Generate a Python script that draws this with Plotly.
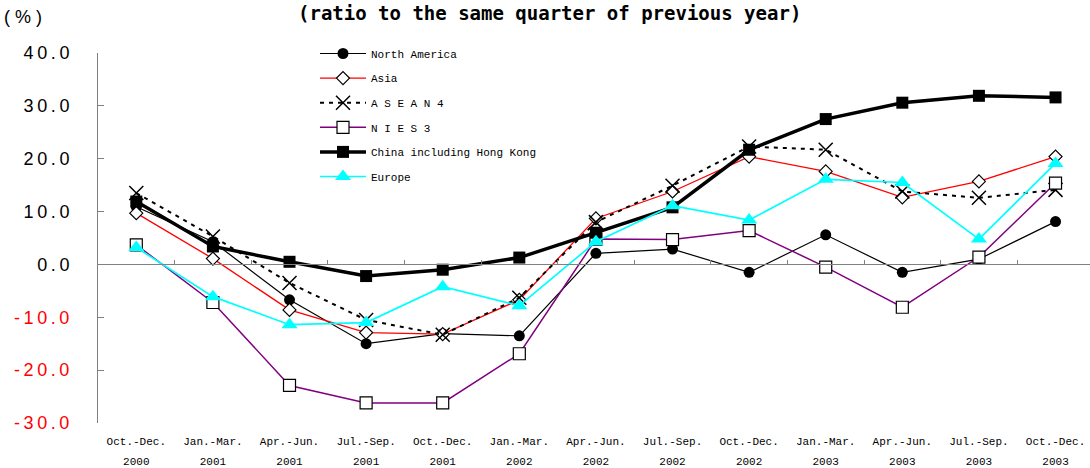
import plotly.graph_objects as go

quarters = ["Oct.-Dec.", "Jan.-Mar.", "Apr.-Jun.", "Jul.-Sep.", "Oct.-Dec.", "Jan.-Mar.", "Apr.-Jun.",
            "Jul.-Sep.", "Oct.-Dec.", "Jan.-Mar.", "Apr.-Jun.", "Jul.-Sep.", "Oct.-Dec."]
years = ["2000", "2001", "2001", "2001", "2001", "2002", "2002", "2002", "2002", "2003", "2003", "2003", "2003"]

north_america = [10.9, 4.3, -6.7, -15.0, -13.1, -13.5, 2.1, 2.9, -1.5, 5.6, -1.5, 1.0, 8.1]
asia = [9.7, 1.1, -8.6, -12.9, -13.2, -6.7, 8.7, 13.8, 20.4, 17.6, 12.7, 15.7, 20.4]
asean4 = [13.5, 5.3, -3.5, -10.5, -13.3, -6.3, 8.0, 14.9, 22.3, 21.7, 13.8, 12.6, 14.1]
nies3 = [3.7, -7.2, -22.9, -26.2, -26.2, -16.9, 4.8, 4.7, 6.4, -0.5, -8.1, 1.4, 15.4]
china_hk = [11.9, 3.4, 0.5, -2.2, -1.0, 1.3, 6.0, 10.8, 21.7, 27.5, 30.6, 31.9, 31.6]
europe = [3.2, -6.1, -11.4, -11.0, -4.2, -7.8, 4.3, 11.1, 8.4, 16.1, 15.5, 4.8, 19.1]

y_ticks = [-30, -20, -10, 0, 10, 20, 30, 40]
y_tick_labels = ["-30.0", "-20.0", "-10.0", "0.0", "10.0", "20.0", "30.0", "40.0"]

TS = "\u2009"
def fmt_label(v, s):
    spaced = TS.join(list(s.lstrip("-")))
    if v < 0:
        return '<span style="color:#ff0000">-' + TS + spaced + '</span>'
    return spaced

xs = list(range(len(quarters)))
MONO = "Liberation Mono, DejaVu Sans Mono, monospace"

fig = go.Figure()

series = [
    ("North America", north_america, dict(color="black", width=1.2), dict(symbol="circle", size=11, color="black")),
    ("Asia", asia, dict(color="#ff0000", width=1.3), dict(symbol="diamond", size=10, color="white", line=dict(color="black", width=1.2))),
    ("A S E A N 4", asean4, dict(color="black", width=2, dash="4px,5px"), dict(symbol="x-thin-open", size=14, color="black", line=dict(color="black", width=1.5))),
    ("N I E S 3", nies3, dict(color="#800080", width=1.5), dict(symbol="square", size=12, color="white", line=dict(color="black", width=1.2))),
    ("China including Hong Kong", china_hk, dict(color="black", width=3.5), dict(symbol="square", size=12, color="black")),
    ("Europe", europe, dict(color="#00ffff", width=1.7), dict(symbol="triangle-up", size=14, color="#00ffff", line=dict(width=0))),
]

for i, (name, vals, line, marker) in enumerate(series):
    fig.add_trace(go.Scatter(x=xs, y=vals, name=name, mode="lines+markers",
                             line=line, marker=marker, legendgroup="g%d" % i,
                             cliponaxis=False))

# year labels axis (dummy invisible trace on xaxis3)
fig.add_trace(go.Scatter(x=xs, y=[None] * len(xs), xaxis="x3", showlegend=False, hoverinfo="skip"))
# zero-line axis
fig.add_trace(go.Scatter(x=xs, y=[None] * len(xs), xaxis="x2", showlegend=False, hoverinfo="skip"))

fig.update_layout(
    width=1090, height=468,
    margin=dict(l=98, r=0, t=53, b=45),
    paper_bgcolor="white", plot_bgcolor="white",
    font=dict(family=MONO, color="black"),
    xaxis=dict(range=[-0.5, 12.45], tickmode="array", tickvals=xs, ticktext=quarters,
               showline=False, showgrid=False, zeroline=False, ticks="",
               tickfont=dict(family=MONO, size=11), ticklabelstandoff=10),
    xaxis3=dict(range=[-0.5, 12.45], overlaying="x", anchor="y", side="bottom",
                tickmode="array", tickvals=xs, ticktext=years,
                showline=False, showgrid=False, zeroline=False, ticks="",
                tickfont=dict(family=MONO, size=11), ticklabelstandoff=30),
    xaxis2=dict(range=[-0.5, 12.45], overlaying="x", anchor="free", position=30 / 70,
                side="bottom", showline=True, linecolor="#808080", linewidth=1,
                tickmode="array", tickvals=[v + 0.5 for v in xs[:-1]], ticks="inside",
                ticklen=4, tickcolor="#808080", showticklabels=False, showgrid=False, zeroline=False),
    yaxis=dict(range=[-30, 40], tickmode="array", tickvals=y_ticks,
               ticktext=[fmt_label(v, s) for v, s in zip(y_ticks, y_tick_labels)],
               showline=True, linecolor="#808080", linewidth=1, ticks="inside", ticklen=6,
               tickcolor="#808080", showgrid=False, zeroline=False,
               tickfont=dict(family="Liberation Sans, Arial, sans-serif", size=18),
               ticklabelstandoff=24),
    legend=dict(x=(315 - 98) / 992, y=(423 - 39) / 370, xanchor="left", yanchor="top",
                bgcolor="rgba(0,0,0,0)", font=dict(family=MONO, size=11, color="black"),
                itemwidth=46, tracegroupgap=5.6, traceorder="grouped"),
    showlegend=True,
)

fig.add_annotation(text="<b>(ratio to the same quarter of previous year)</b>", xref="paper", yref="paper",
                   x=(549 - 98) / 992, y=423 / 370, xanchor="center", yanchor="top",
                   showarrow=False, font=dict(family="DejaVu Sans Mono", size=19, color="black"))
fig.add_annotation(text="( % )", xref="paper", yref="paper",
                   x=-96 / 992, y=(423 - 17) / 370, xanchor="left", yanchor="middle",
                   showarrow=False, font=dict(family="Liberation Sans Narrow, Liberation Sans, Arial", size=18, color="black"))

fig.write_html("out.html")
